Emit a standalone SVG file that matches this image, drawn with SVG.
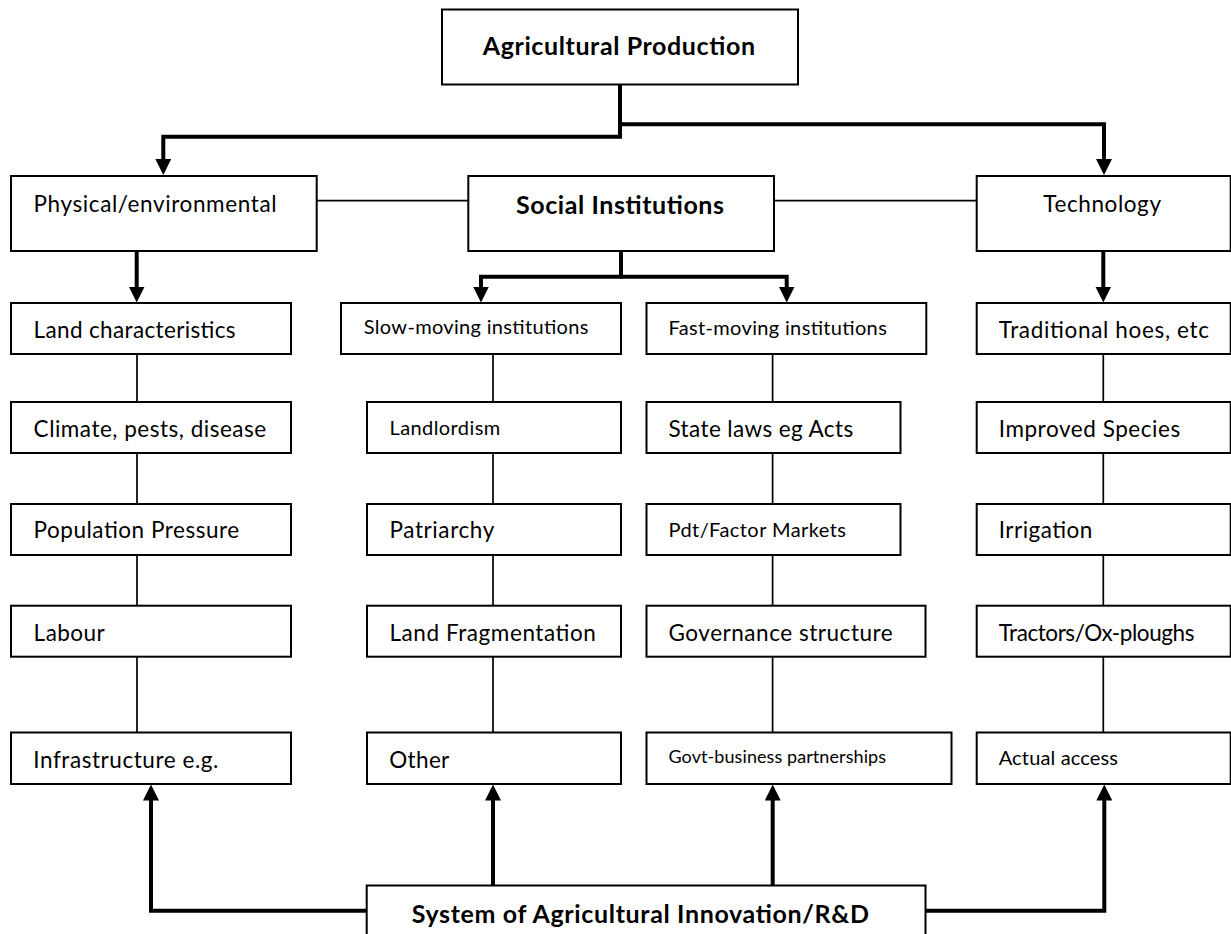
<svg xmlns="http://www.w3.org/2000/svg" width="1231" height="934" viewBox="0 0 1231 934">
<style>
.box{fill:#fff;stroke:#000;stroke-width:2}
.t{font-family:Lato,"Open Sans",sans-serif;font-size:22.5px;fill:#000}
.m{font-size:20px}
.sm{font-size:18px}
.b{font-weight:bold;font-size:25px}
.thick{fill:none;stroke:#000;stroke-width:4}
.thin{fill:none;stroke:#000;stroke-width:1.7}
</style>
<defs>
<marker id="ah" markerUnits="strokeWidth" markerWidth="4" markerHeight="4" viewBox="0 0 4 4" refX="2" refY="2" orient="auto">
<path d="M0,0 L4,2 L0,4 z" fill="#000"/>
</marker>
</defs>
<rect width="1231" height="934" fill="#fff"/>
<g id="connectors">
<path class="thin" d="M316.7 200.7 H468.3 M774 200.7 H976.7"/>
<path class="thin" d="M137 354 V402 M137 453 V504 M137 555 V605.7 M137 656.7 V732.5"/>
<path class="thin" d="M493 354 V402 M493 453 V504 M493 555 V605.7 M493 656.7 V732.5"/>
<path class="thin" d="M772.6 354 V402 M772.6 453 V504 M772.6 555 V605.7 M772.6 656.7 V732.5"/>
<path class="thin" d="M1103.3 354 V402 M1103.3 453 V504 M1103.3 555 V605.7 M1103.3 656.7 V732.5"/>
<path class="thick" d="M620 84.5 V136.7 H163.3 V167" marker-end="url(#ah)"/>
<path class="thick" d="M620 124.3 H1104 V167" marker-end="url(#ah)"/>
<path class="thick" d="M136.7 251 V294.5" marker-end="url(#ah)"/>
<path class="thick" d="M621 251 V276.7 H481 V294.5" marker-end="url(#ah)"/>
<path class="thick" d="M621 276.7 H786.7 V294.5" marker-end="url(#ah)"/>
<path class="thick" d="M1103.3 251 V294.5" marker-end="url(#ah)"/>
<path class="thick" d="M366.7 910.7 H151 V792.5" marker-end="url(#ah)"/>
<path class="thick" d="M493 885.5 V792.5" marker-end="url(#ah)"/>
<path class="thick" d="M772.7 885.5 V792.5" marker-end="url(#ah)"/>
<path class="thick" d="M925.5 910.7 H1104.3 V792.5" marker-end="url(#ah)"/>
</g>
<g id="n-agri"><rect class="box" x="442" y="9.5" width="356" height="75"/><text class="t b" x="482.7" y="55" textLength="272.3">Agricultural Production</text></g>
<g id="n-phys"><rect class="box" x="11" y="176" width="305.7" height="75"/><text class="t" x="33.5" y="211.7" textLength="243">Physical/environmental</text></g>
<g id="n-social"><rect class="box" x="468.3" y="176" width="305.7" height="75"/><text class="t b" x="516" y="214" textLength="208">Social Institutions</text></g>
<g id="n-tech"><rect class="box" x="976.7" y="176" width="254" height="75"/><text class="t" x="1043.3" y="211.7" textLength="117.7">Technology</text></g>
<g id="n-land"><rect class="box" x="11" y="303" width="280" height="51"/><text class="t" x="33.6" y="337.7" textLength="202">Land characteristics</text></g>
<g id="n-slow"><rect class="box" x="341" y="303" width="280" height="51"/><text class="t m" x="363.8" y="334" textLength="224.6">Slow-moving institutions</text></g>
<g id="n-fast"><rect class="box" x="646.5" y="303" width="279.8" height="51"/><text class="t m" x="668.5" y="335" textLength="218.3">Fast-moving institutions</text></g>
<g id="n-trad"><rect class="box" x="976.7" y="303" width="254" height="51"/><text class="t" x="998.7" y="338.3" textLength="210.3">Traditional hoes, etc</text></g>
<g id="n-climate"><rect class="box" x="11" y="402" width="280" height="51"/><text class="t" x="33.6" y="436.7" textLength="232.5">Climate, pests, disease</text></g>
<g id="n-landlord"><rect class="box" x="367" y="402" width="254" height="51"/><text class="t m" x="389.5" y="435" textLength="110.7">Landlordism</text></g>
<g id="n-state"><rect class="box" x="646.5" y="402" width="254" height="51"/><text class="t" x="668.5" y="436.7" textLength="184.7">State laws eg Acts</text></g>
<g id="n-species"><rect class="box" x="976.7" y="402" width="254" height="51"/><text class="t" x="998.7" y="436.7" textLength="181.5">Improved Species</text></g>
<g id="n-pop"><rect class="box" x="11" y="504" width="280" height="51"/><text class="t" x="33.6" y="538.3" textLength="205.6">Population Pressure</text></g>
<g id="n-patri"><rect class="box" x="367" y="504" width="254" height="51"/><text class="t" x="389.5" y="538.3" textLength="104.8">Patriarchy</text></g>
<g id="n-pdt"><rect class="box" x="646.5" y="504" width="254" height="51"/><text class="t m" x="668.5" y="536.7" textLength="177.5">Pdt/Factor Markets</text></g>
<g id="n-irr"><rect class="box" x="976.7" y="504" width="254" height="51"/><text class="t" x="998.7" y="538.3" textLength="93.7">Irrigation</text></g>
<g id="n-labour"><rect class="box" x="11" y="605.7" width="280" height="51"/><text class="t" x="33.6" y="640.7" textLength="71.2">Labour</text></g>
<g id="n-frag"><rect class="box" x="367" y="605.7" width="254" height="51"/><text class="t" x="389.5" y="640.7" textLength="206.4">Land Fragmentation</text></g>
<g id="n-gov"><rect class="box" x="646.5" y="605.7" width="279" height="51"/><text class="t" x="668.5" y="640.7" textLength="224.2">Governance structure</text></g>
<g id="n-tractor"><rect class="box" x="976.7" y="605.7" width="254" height="51"/><text class="t" x="998.7" y="640.7" textLength="195.7">Tractors/Ox-ploughs</text></g>
<g id="n-infra"><rect class="box" x="11" y="732.5" width="280" height="51.5"/><text class="t" x="33.3" y="768" textLength="185">Infrastructure e.g.</text></g>
<g id="n-other"><rect class="box" x="367" y="732.5" width="254" height="51.5"/><text class="t" x="389.3" y="768.3" textLength="60">Other</text></g>
<g id="n-govt"><rect class="box" x="646.5" y="732.5" width="305" height="51.5"/><text class="t sm" x="668.5" y="763.3" textLength="217.5">Govt-business partnerships</text></g>
<g id="n-access"><rect class="box" x="976.7" y="732.5" width="254" height="51.5"/><text class="t m" x="998.7" y="765" textLength="119.3">Actual access</text></g>
<g id="n-system"><rect class="box" x="366.7" y="885.5" width="558.8" height="60"/><text class="t b" x="411.7" y="923" textLength="457.3">System of Agricultural Innovation/R&amp;D</text></g>
</svg>
